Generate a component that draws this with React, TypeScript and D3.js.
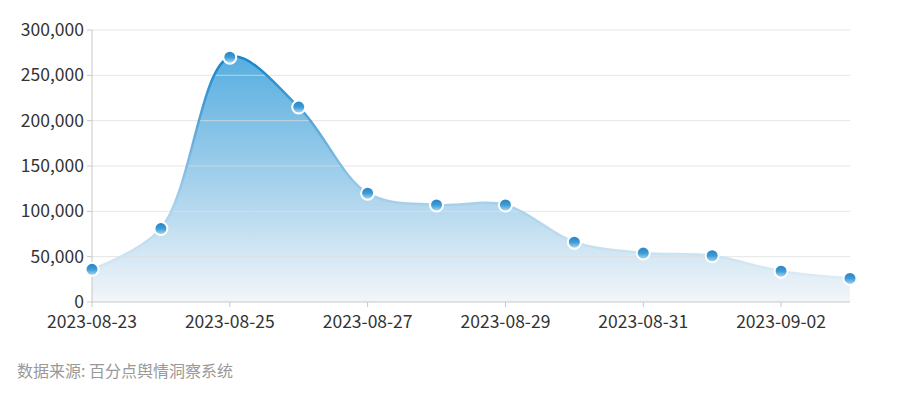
import React from "react";
import * as d3 from "d3";

const dates = [
  "2023-08-23", "2023-08-24", "2023-08-25", "2023-08-26", "2023-08-27", "2023-08-28",
  "2023-08-29", "2023-08-30", "2023-08-31", "2023-09-01", "2023-09-02", "2023-09-03",
];
const values = [36000, 81000, 270000, 215000, 120000, 107000, 107000, 66000, 54000, 51000, 34000, 26000];
const yTicks = [0, 50000, 100000, 150000, 200000, 250000, 300000];
const xTickLabels = ["2023-08-23", "2023-08-25", "2023-08-27", "2023-08-29", "2023-08-31", "2023-09-02"];
const sourceText = "数据来源: 百分点舆情洞察系统";

const W = 900, H = 400;
const M = { left: 92, right: 50, top: 30, bottom: 98 };
const FONT = "'Noto Sans CJK SC', 'Noto Sans', sans-serif";

export default function App() {
  const x = d3.scalePoint<string>().domain(dates).range([M.left, W - M.right]);
  const y = d3.scaleLinear().domain([0, 300000]).range([H - M.bottom, M.top]);
  const data = dates.map((d, i) => ({ d, v: values[i] }));
  const curve = d3.curveCatmullRom.alpha(0.5);
  const line = d3.line<{ d: string; v: number }>().x(p => x(p.d)!).y(p => y(p.v)).curve(curve);
  const area = d3.area<{ d: string; v: number }>().x(p => x(p.d)!).y0(y(0)).y1(p => y(p.v)).curve(curve);
  const fmt = d3.format(",");
  const x0 = M.left, x1 = W - M.right, yb = y(0);

  return (
    <div style={{ position: "absolute", left: 0, top: 0 }}>
      <svg width={W} height={H} style={{ display: "block", fontFamily: FONT }}>
        <defs>
          <linearGradient id="areaG" gradientUnits="userSpaceOnUse" x1="0" x2="0" y1={y(275000)} y2={yb}>
            <stop offset="0" stopColor="#55ade0" />
            <stop offset="0.55" stopColor="#a9d3ec" />
            <stop offset="1" stopColor="#f3f6f9" />
          </linearGradient>
          <linearGradient id="lineG" gradientUnits="userSpaceOnUse" x1="0" x2="0" y1={y(275000)} y2={yb}>
            <stop offset="0" stopColor="#1282c8" />
            <stop offset="0.6" stopColor="#a6cfea" />
            <stop offset="1" stopColor="#eef4f9" />
          </linearGradient>
          <linearGradient id="dotG" x1="0" x2="0" y1="0" y2="1">
            <stop offset="0" stopColor="#2581c2" />
            <stop offset="0.5" stopColor="#3d9bd6" />
            <stop offset="1" stopColor="#b5ddf3" />
          </linearGradient>
        </defs>
        <path d={area(data)!} fill="url(#areaG)" />
        {yTicks.filter(t => t > 0).map(t => (
          <line key={t} x1={x0} x2={x1} y1={y(t)} y2={y(t)} stroke="#dcdcdc" strokeOpacity={0.75} strokeWidth={1} />
        ))}
        <path d={line(data)!} fill="none" stroke="url(#lineG)" strokeWidth={2.5} />
        <line x1={x0} x2={x0} y1={M.top} y2={yb} stroke="#c8c8c8" />
        <line x1={x0} x2={x1} y1={yb} y2={yb} stroke="#c8c8c8" />
        {yTicks.map(t => (
          <g key={t}>
            <line x1={x0 - 5} x2={x0} y1={y(t)} y2={y(t)} stroke="#c8c8c8" />
            <text x={x0 - 8} y={y(t)} dy="0.35em" textAnchor="end" fontSize={17.5} fill="#333">{fmt(t)}</text>
          </g>
        ))}
        {xTickLabels.map(t => (
          <g key={t}>
            <line x1={x(t)!} x2={x(t)!} y1={yb} y2={yb + 5} stroke="#c8c8c8" />
            <text x={x(t)!} y={yb + 26} textAnchor="middle" fontSize={17.5} fill="#333">{t}</text>
          </g>
        ))}
        {data.map(p => (
          <circle key={p.d} cx={x(p.d)!} cy={y(p.v)} r={6.5} fill="url(#dotG)" stroke="#fff" strokeWidth={2} />
        ))}
        <text x={17} y={377} fontSize={16} fill="#999">{sourceText}</text>
      </svg>
    </div>
  );
}
